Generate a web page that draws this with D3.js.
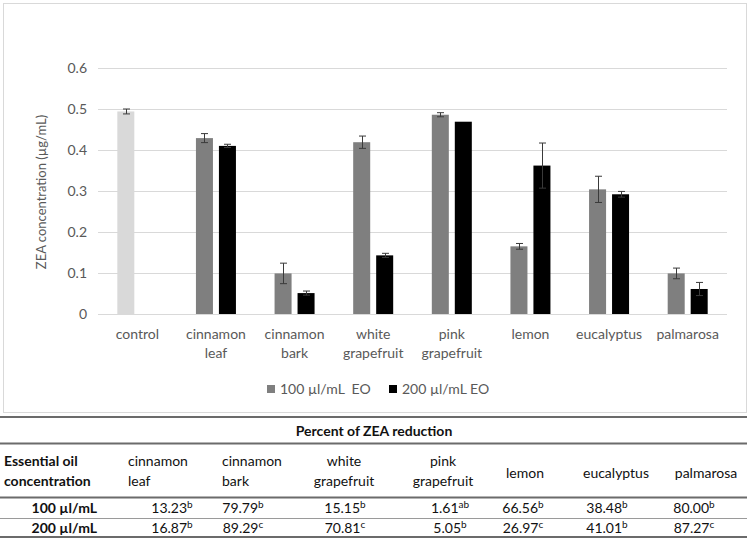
<!DOCTYPE html>
<html>
<head>
<meta charset="utf-8">
<script src="https://cdn.jsdelivr.net/npm/d3@7"></script>
<style>
  body { margin: 0; background: #fff; }
  svg { display: block; font-family: Lato, "Open Sans", sans-serif; }
</style>
</head>
<body>
<svg id="chart" width="750" height="558"></svg>
<script>
// ZEA concentration (ug/mL) by essential oil
var categories = ["control", "cinnamon leaf", "cinnamon bark", "white grapefruit",
                  "pink grapefruit", "lemon", "eucalyptus", "palmarosa"];
var series = ["100 µl/mL  EO", "200 µl/mL EO"];
var conc100 = [0.494, 0.429, 0.099, 0.419, 0.486, 0.165, 0.304, 0.099];
var err100  = [0.006, 0.011, 0.025, 0.015, 0.005, 0.007, 0.032, 0.013];
var conc200 = [null,  0.410, 0.051, 0.143, 0.469, 0.362, 0.292, 0.061];
var err200  = [null,  0.004, 0.005, 0.005, 0,     0.055, 0.007, 0.016];
var yTicks  = [0, 0.1, 0.2, 0.3, 0.4, 0.5, 0.6];

// percent of ZEA reduction table
var oils = categories.slice(1);
var rowLabels = ["100 µl/mL", "200 µl/mL"];
var reduction100 = [13.23, 79.79, 15.15, 1.61, 66.56, 38.48, 80.00];
var letters100   = ["b", "b", "b", "ab", "b", "b", "b"];
var reduction200 = [16.87, 89.29, 70.81, 5.05, 26.97, 41.01, 87.27];
var letters200   = ["b", "c", "c", "b", "c", "b", "c"];

var svg = d3.select("#chart");
var textGrey = "#595959";

// chart frame
svg.append("rect")
  .attr("x", 3.5).attr("y", 3.5)
  .attr("width", 743).attr("height", 409)
  .attr("fill", "none").attr("stroke", "#d9d9d9");

var x = d3.scaleBand().domain(categories).range([98, 727]);
var x1 = d3.scaleBand().domain(["100", "200"]).range([0, x.bandwidth()])
  .paddingInner(0.26).paddingOuter(0.84);
var y = d3.scaleLinear().domain([0, 0.6]).range([314, 68]);

// gridlines
svg.append("g").selectAll("line").data(yTicks).join("line")
  .attr("x1", 98).attr("x2", 727)
  .attr("y1", function(d) { return Math.round(y(d)) + 0.5; })
  .attr("y2", function(d) { return Math.round(y(d)) + 0.5; })
  .attr("stroke", "#d9d9d9");

// y axis labels
var yAxis = d3.axisLeft(y).tickValues(yTicks).tickSize(0).tickPadding(0)
  .tickFormat(function(d) { return d === 0 ? "0" : d.toFixed(1); });
var yg = svg.append("g").attr("transform", "translate(87,0)").call(yAxis);
yg.select(".domain").remove();
yg.selectAll("text").attr("fill", textGrey).style("font-size", "14px")
  .style("font-family", "Lato, sans-serif");

svg.append("text")
  .attr("transform", "translate(46,192) rotate(-90)")
  .attr("text-anchor", "middle")
  .attr("fill", textGrey).style("font-size", "13px")
  .text("ZEA concentration (µg/mL)");

// bars
var bars = [];
categories.forEach(function(c, i) {
  if (conc100[i] != null) bars.push({cat: c, s: "100", v: conc100[i], e: err100[i]});
  if (conc200[i] != null) bars.push({cat: c, s: "200", v: conc200[i], e: err200[i]});
});

function barFill(d) {
  if (d.cat === "control") return "#d9d9d9";
  return d.s === "100" ? "#7f7f7f" : "#000";
}

svg.append("g").selectAll("rect").data(bars).join("rect")
  .attr("x", function(d) { return x(d.cat) + x1(d.s); })
  .attr("y", function(d) { return y(d.v); })
  .attr("width", x1.bandwidth())
  .attr("height", function(d) { return y(0) - y(d.v); })
  .attr("fill", barFill);

// error bars
var eb = svg.append("g").attr("stroke", "#3a3a3a").attr("stroke-width", 1)
  .selectAll("g").data(bars.filter(function(d) { return d.e > 0; })).join("g")
  .attr("transform", function(d) {
    return "translate(" + (Math.round(x(d.cat) + x1(d.s) + x1.bandwidth() / 2) + 0.5) + ",0)";
  });
eb.append("line")
  .attr("y1", function(d) { return y(d.v + d.e); })
  .attr("y2", function(d) { return y(d.v - d.e); });
eb.append("line").attr("x1", -3.5).attr("x2", 3.5)
  .attr("y1", function(d) { return y(d.v + d.e); })
  .attr("y2", function(d) { return y(d.v + d.e); });
eb.append("line").attr("x1", -3.5).attr("x2", 3.5)
  .attr("y1", function(d) { return y(d.v - d.e); })
  .attr("y2", function(d) { return y(d.v - d.e); });

// category labels
var cl = svg.append("g").selectAll("text").data(categories).join("text")
  .attr("text-anchor", "middle")
  .attr("fill", textGrey).style("font-size", "14px")
  .attr("x", function(d) { return x(d) + x.bandwidth() / 2; })
  .attr("y", 339);
cl.selectAll("tspan").data(function(d) { return d.split(" "); }).join("tspan")
  .attr("x", function() { var p = this.parentNode.__data__; return x(p) + x.bandwidth() / 2; })
  .attr("dy", function(d, i) { return i ? 19 : 0; })
  .text(function(d) { return d; });

// legend
var legX = [267, 389];
var lg = svg.append("g").selectAll("g").data(series).join("g")
  .attr("transform", function(d, i) { return "translate(" + legX[i] + ",385)"; });
lg.append("rect").attr("width", 8).attr("height", 8)
  .attr("fill", function(d, i) { return i ? "#000" : "#7f7f7f"; });
lg.append("text").attr("x", 13).attr("y", 9)
  .attr("fill", textGrey).style("font-size", "14px")
  .style("white-space", "pre").attr("xml:space", "preserve")
  .text(function(d) { return d; });

// ---- table ----
var tbl = svg.append("g").style("font-size", "14px").attr("fill", "#111");
var rules = [
  {y: 417, w: 2, c: "#6b6b6b"},
  {y: 443.5, w: 2, c: "#6b6b6b"},
  {y: 497.5, w: 2, c: "#6b6b6b"},
  {y: 518.5, w: 1, c: "#9a9a9a"},
  {y: 537, w: 2, c: "#6b6b6b"}
];
tbl.selectAll("line").data(rules).join("line")
  .attr("x1", 0).attr("x2", 747)
  .attr("y1", function(d) { return d.y; }).attr("y2", function(d) { return d.y; })
  .attr("stroke", function(d) { return d.c; })
  .attr("stroke-width", function(d) { return d.w; });

tbl.append("text").attr("x", 374).attr("y", 436).attr("text-anchor", "middle")
  .style("font-weight", "bold").text("Percent of ZEA reduction");

tbl.append("text").attr("x", 4).attr("y", 466).style("font-weight", "bold").text("Essential oil");
tbl.append("text").attr("x", 4).attr("y", 486).style("font-weight", "bold").text("concentration");

var headX = [128, 222, 344, 443, 525, 616, 706];
var headAnchor = ["start", "start", "middle", "middle", "middle", "middle", "middle"];
var valX = [172, 243, 345, 450, 523, 607, 694];

var hd = tbl.append("g").selectAll("text").data(oils).join("text")
  .attr("text-anchor", function(d, i) { return headAnchor[i]; })
  .attr("y", function(d) { return d.indexOf(" ") > 0 ? 466 : 478; });
hd.selectAll("tspan").data(function(d, i) {
    return d.split(" ").map(function(w) { return {w: w, i: i}; });
  }).join("tspan")
  .attr("x", function(d) { return headX[d.i]; })
  .attr("dy", function(d, j) { return j ? 20 : 0; })
  .text(function(d) { return d.w; });

var rows = [
  {label: rowLabels[0], vals: reduction100, sup: letters100, y: 513},
  {label: rowLabels[1], vals: reduction200, sup: letters200, y: 533}
];
rows.forEach(function(r) {
  tbl.append("text").attr("x", 97).attr("y", r.y).attr("text-anchor", "end")
    .style("font-weight", "bold").text(r.label);
  var t = tbl.append("g").selectAll("text").data(r.vals).join("text")
    .attr("x", function(d, i) { return valX[i]; })
    .attr("y", r.y).attr("text-anchor", "middle");
  t.append("tspan").text(function(d) { return d.toFixed(2); });
  t.append("tspan").attr("dy", -5).style("font-size", "10px")
    .text(function(d, i) { return r.sup[i]; });
});
</script>
</body>
</html>
